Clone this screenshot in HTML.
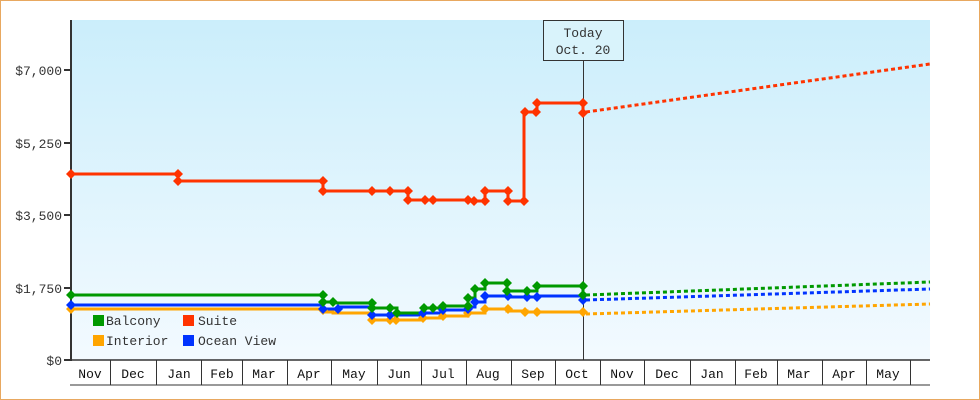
<!DOCTYPE html>
<html><head><meta charset="utf-8"><style>
html,body{margin:0;padding:0;background:#fff}
svg{display:block;font-family:"Liberation Mono",monospace}
</style></head><body>
<svg width="980" height="400" viewBox="0 0 980 400" xmlns="http://www.w3.org/2000/svg">
<defs><linearGradient id="bg" x1="0" y1="0" x2="0" y2="1"><stop offset="0" stop-color="#cbeefb"/><stop offset="1" stop-color="#f3faff"/></linearGradient></defs>
<rect x="0.5" y="0.5" width="979" height="399" fill="#fff" stroke="#e8a860"/>
<rect x="71" y="20" width="859" height="340" fill="url(#bg)"/>
<g font-size="13" fill="#333" text-anchor="end">
<text x="62" y="75">$7,000</text><text x="62" y="148">$5,250</text><text x="62" y="220">$3,500</text><text x="62" y="293">$1,750</text><text x="62" y="365">$0</text>
</g>
<g stroke="#333" stroke-width="2"><line x1="64" y1="70" x2="71" y2="70"/><line x1="64" y1="143" x2="71" y2="143"/><line x1="64" y1="215" x2="71" y2="215"/><line x1="64" y1="288" x2="71" y2="288"/><line x1="64" y1="360" x2="71" y2="360"/></g>
<line x1="71" y1="20" x2="71" y2="361" stroke="#333" stroke-width="2"/>
<line x1="70" y1="360" x2="930" y2="360" stroke="#333" stroke-width="1.5"/>
<line x1="70" y1="385" x2="930" y2="385" stroke="#333" stroke-width="1"/>
<g stroke="#333" stroke-width="1">
<line x1="110.5" y1="360" x2="110.5" y2="385"/><line x1="156.5" y1="360" x2="156.5" y2="385"/><line x1="201.5" y1="360" x2="201.5" y2="385"/><line x1="242.5" y1="360" x2="242.5" y2="385"/><line x1="287.5" y1="360" x2="287.5" y2="385"/><line x1="331.5" y1="360" x2="331.5" y2="385"/><line x1="377.5" y1="360" x2="377.5" y2="385"/><line x1="421.5" y1="360" x2="421.5" y2="385"/><line x1="466.5" y1="360" x2="466.5" y2="385"/><line x1="511.5" y1="360" x2="511.5" y2="385"/><line x1="555.5" y1="360" x2="555.5" y2="385"/><line x1="600.5" y1="360" x2="600.5" y2="385"/><line x1="644.5" y1="360" x2="644.5" y2="385"/><line x1="690.5" y1="360" x2="690.5" y2="385"/><line x1="735.5" y1="360" x2="735.5" y2="385"/><line x1="777.5" y1="360" x2="777.5" y2="385"/><line x1="822.5" y1="360" x2="822.5" y2="385"/><line x1="866.5" y1="360" x2="866.5" y2="385"/><line x1="910.5" y1="360" x2="910.5" y2="385"/>
</g>
<g font-size="13" fill="#111" text-anchor="middle">
<text x="90" y="378">Nov</text><text x="133" y="378">Dec</text><text x="179" y="378">Jan</text><text x="222" y="378">Feb</text><text x="264" y="378">Mar</text><text x="309" y="378">Apr</text><text x="354" y="378">May</text><text x="399" y="378">Jun</text><text x="443" y="378">Jul</text><text x="488" y="378">Aug</text><text x="533" y="378">Sep</text><text x="577" y="378">Oct</text><text x="622" y="378">Nov</text><text x="667" y="378">Dec</text><text x="712" y="378">Jan</text><text x="756" y="378">Feb</text><text x="799" y="378">Mar</text><text x="844" y="378">Apr</text><text x="888" y="378">May</text>
</g>
<line x1="583.5" y1="60" x2="583.5" y2="360" stroke="#333" stroke-width="1"/>
<rect x="543.5" y="20.5" width="80" height="40" fill="#d9f3fb" stroke="#333"/>
<text x="583" y="37" font-size="13" fill="#333" text-anchor="middle">Today</text>
<text x="583" y="54" font-size="13" fill="#333" text-anchor="middle">Oct. 20</text>
<g fill="none" stroke-width="3" stroke-dasharray="4,3">
<line x1="586" y1="112" x2="930" y2="64" stroke="#ff3300"/>
<line x1="586" y1="295" x2="930" y2="282" stroke="#009900"/>
<line x1="586" y1="300" x2="930" y2="289" stroke="#0033ff"/>
<line x1="586" y1="314" x2="930" y2="304" stroke="#ffa500"/>
</g>
<g fill="none" stroke-width="3">
<polyline stroke="#ffa500" points="71,309 323,309 323,312 333,312 333,313 372,313 372,320 421,320 421,318 443,318 443,316 468,316 468,313 485,313 485,309 507,309 507,311 527,311 527,312 583,312"/>
<polyline stroke="#0033ff" points="71,305 323,305 323,309 338,309 338,307 372,307 372,315 421,315 421,313 443,313 443,310 468,310 468,307 475,307 475,302 485,302 485,296 507,296 507,297 537,297 537,296 583,296 583,300"/>
<polyline stroke="#009900" points="71,295 323,295 323,302 333,302 337,303 372,303 372,308 397,308 397,313 423,313 423,308 443,308 443,306 468,306 468,298 475,298 475,289 485,289 485,283 507,283 507,291 537,291 537,286 583,286 583,295"/>
<polyline stroke="#ff3300" points="71,174 178,174 178,181 323,181 323,191 390,191 390,191 408,191 408,200 467,200 467,201 485,201 485,191 508,191 508,201 524,201 524,112 537,112 537,103 583,103 583,113"/>
</g>
<g>
<g fill="#ff3300"><path d="M71,169l5,5l-5,5l-5,-5z"/><path d="M178,169l5,5l-5,5l-5,-5z"/><path d="M178,176l5,5l-5,5l-5,-5z"/><path d="M323,176l5,5l-5,5l-5,-5z"/><path d="M323,186l5,5l-5,5l-5,-5z"/><path d="M372,186l5,5l-5,5l-5,-5z"/><path d="M390,186l5,5l-5,5l-5,-5z"/><path d="M408,186l5,5l-5,5l-5,-5z"/><path d="M408,195l5,5l-5,5l-5,-5z"/><path d="M425,195l5,5l-5,5l-5,-5z"/><path d="M433,195l5,5l-5,5l-5,-5z"/><path d="M468,195l5,5l-5,5l-5,-5z"/><path d="M474,196l5,5l-5,5l-5,-5z"/><path d="M485,186l5,5l-5,5l-5,-5z"/><path d="M485,196l5,5l-5,5l-5,-5z"/><path d="M508,186l5,5l-5,5l-5,-5z"/><path d="M508,196l5,5l-5,5l-5,-5z"/><path d="M524,196l5,5l-5,5l-5,-5z"/><path d="M525,107l5,5l-5,5l-5,-5z"/><path d="M537,98l5,5l-5,5l-5,-5z"/><path d="M536,107l5,5l-5,5l-5,-5z"/><path d="M583,98l5,5l-5,5l-5,-5z"/><path d="M583,108l5,5l-5,5l-5,-5z"/></g>
<g fill="#ffa500"><path d="M71,304l5,5l-5,5l-5,-5z"/><path d="M323,305l5,5l-5,5l-5,-5z"/><path d="M372,315l5,5l-5,5l-5,-5z"/><path d="M390,315l5,5l-5,5l-5,-5z"/><path d="M396,315l5,5l-5,5l-5,-5z"/><path d="M423,313l5,5l-5,5l-5,-5z"/><path d="M443,311l5,5l-5,5l-5,-5z"/><path d="M468,308l5,5l-5,5l-5,-5z"/><path d="M485,304l5,5l-5,5l-5,-5z"/><path d="M508,304l5,5l-5,5l-5,-5z"/><path d="M525,307l5,5l-5,5l-5,-5z"/><path d="M537,307l5,5l-5,5l-5,-5z"/><path d="M583,307l5,5l-5,5l-5,-5z"/></g>
<g fill="#0033ff"><path d="M71,300l5,5l-5,5l-5,-5z"/><path d="M323,304l5,5l-5,5l-5,-5z"/><path d="M338,304l5,5l-5,5l-5,-5z"/><path d="M372,310l5,5l-5,5l-5,-5z"/><path d="M390,310l5,5l-5,5l-5,-5z"/><path d="M423,308l5,5l-5,5l-5,-5z"/><path d="M443,305l5,5l-5,5l-5,-5z"/><path d="M468,304l5,5l-5,5l-5,-5z"/><path d="M475,297l5,5l-5,5l-5,-5z"/><path d="M485,291l5,5l-5,5l-5,-5z"/><path d="M508,291l5,5l-5,5l-5,-5z"/><path d="M527,292l5,5l-5,5l-5,-5z"/><path d="M537,292l5,5l-5,5l-5,-5z"/><path d="M583,295l5,5l-5,5l-5,-5z"/></g>
<g fill="#009900"><path d="M71,290l5,5l-5,5l-5,-5z"/><path d="M323,290l5,5l-5,5l-5,-5z"/><path d="M323,297l5,5l-5,5l-5,-5z"/><path d="M333,297l5,5l-5,5l-5,-5z"/><path d="M372,298l5,5l-5,5l-5,-5z"/><path d="M372,303l5,5l-5,5l-5,-5z"/><path d="M390,303l5,5l-5,5l-5,-5z"/><path d="M397,308l5,5l-5,5l-5,-5z"/><path d="M424,303l5,5l-5,5l-5,-5z"/><path d="M433,303l5,5l-5,5l-5,-5z"/><path d="M443,301l5,5l-5,5l-5,-5z"/><path d="M468,293l5,5l-5,5l-5,-5z"/><path d="M468,301l5,5l-5,5l-5,-5z"/><path d="M475,284l5,5l-5,5l-5,-5z"/><path d="M485,278l5,5l-5,5l-5,-5z"/><path d="M507,278l5,5l-5,5l-5,-5z"/><path d="M507,286l5,5l-5,5l-5,-5z"/><path d="M527,286l5,5l-5,5l-5,-5z"/><path d="M537,281l5,5l-5,5l-5,-5z"/><path d="M583,281l5,5l-5,5l-5,-5z"/><path d="M583,290l5,5l-5,5l-5,-5z"/></g>
</g>
<rect x="93" y="315" width="11" height="11" fill="#009900"/>
<rect x="183" y="315" width="11" height="11" fill="#ff3300"/>
<rect x="93" y="335" width="11" height="11" fill="#ffa500"/>
<rect x="183" y="335" width="11" height="11" fill="#0033ff"/>
<g font-size="13" fill="#333"><text x="106" y="325">Balcony</text><text x="198" y="325">Suite</text><text x="106" y="345">Interior</text><text x="198" y="345">Ocean View</text></g>
</svg>
</body></html>
